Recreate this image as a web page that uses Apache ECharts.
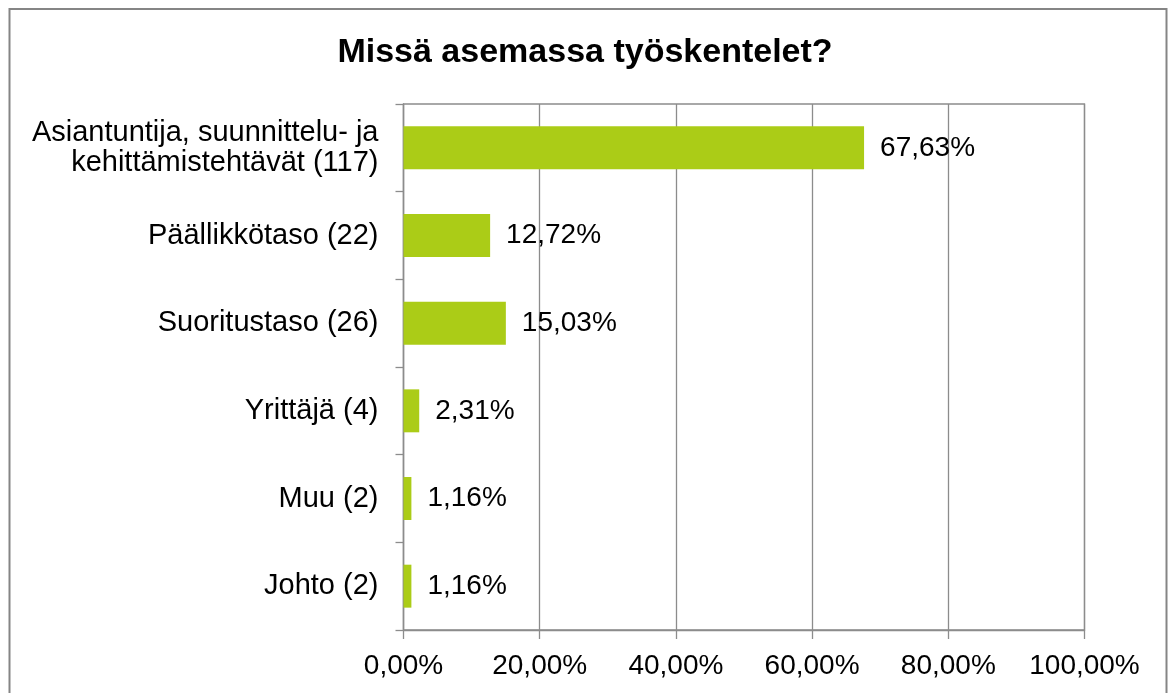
<!DOCTYPE html>
<html><head><meta charset="utf-8">
<script src="https://cdn.jsdelivr.net/npm/echarts@6/dist/echarts.min.js"></script>
<style>html,body{margin:0;padding:0;background:#fff}#c{width:1170px;height:693px}</style>
</head><body><div id="c"></div>
<script>
const categories = ['Asiantuntija, suunnittelu- ja\nkehittämistehtävät (117)', 'Päällikkötaso (22)', 'Suoritustaso (26)', 'Yrittäjä (4)', 'Muu (2)', 'Johto (2)'];
const values = [67.63, 12.72, 15.03, 2.31, 1.16, 1.16];
const title = 'Missä asemassa työskentelet?';
const fmt = v => v.toFixed(2).replace('.', ',') + '%';
const FF = 'Liberation Sans, Arial, sans-serif';
const chart = echarts.init(document.getElementById('c'));
chart.setOption({
  animation: false,
  textStyle: {fontFamily: FF},
  graphic: [{type: 'rect', shape: {x: 9.5, y: 9, width: 1157, height: 700}, style: {fill: 'none', stroke: '#858585', lineWidth: 2}, silent: true}],
  title: {text: title, left: 'center', top: 31, textStyle: {fontSize: 34, fontWeight: 'bold', color: '#000', fontFamily: FF}},
  grid: {left: 403.5, top: 104, width: 681, height: 526, show: true, borderColor: '#8c8c8c', borderWidth: 1.3, containLabel: false},
  xAxis: {type: 'value', min: 0, max: 100, interval: 20,
    axisLine: {show: true, lineStyle: {color: '#8c8c8c', width: 1.3}},
    axisTick: {show: true, length: 9, lineStyle: {color: '#8c8c8c', width: 1.3}},
    splitLine: {show: true, lineStyle: {color: '#8c8c8c', width: 1.3}},
    axisLabel: {formatter: v => fmt(v), fontSize: 28, color: '#000', margin: 22}},
  yAxis: {type: 'category', data: categories, inverse: true,
    axisLine: {show: true, lineStyle: {color: '#8c8c8c', width: 1.3}},
    axisTick: {show: true, length: 8, lineStyle: {color: '#8c8c8c', width: 1.3}},
    axisLabel: {fontSize: 29, color: '#000', margin: 25, lineHeight: 30, align: 'right'}},
  series: [{type: 'bar', data: values, barWidth: '49%', itemStyle: {color: '#ABCC17'},
    label: {show: true, position: 'right', distance: 16, fontSize: 28, color: '#000', formatter: p => fmt(p.value)}}]
});
</script></body></html>
